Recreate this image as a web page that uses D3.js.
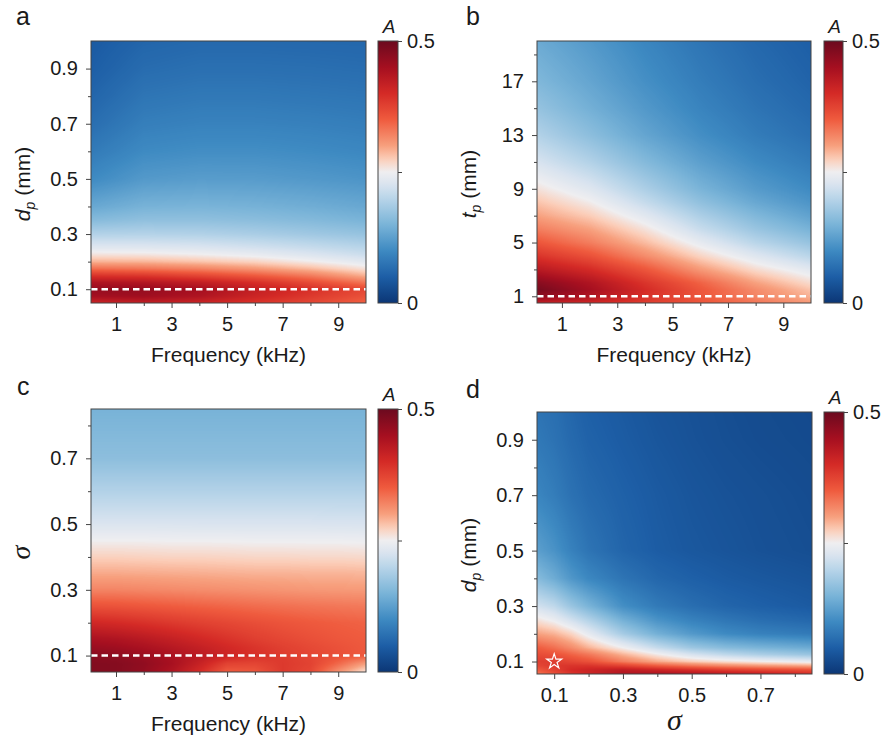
<!DOCTYPE html>
<html><head><meta charset="utf-8">
<script src="https://cdn.jsdelivr.net/npm/d3@7"></script>
<style>
body{margin:0;background:#fff}
svg text{font-family:"Liberation Sans",Arial,sans-serif;fill:#1a1a1a}
</style>
</head><body>
<svg id="chart" width="887" height="744"></svg>
<script>
// ---------------- DATA ----------------
// Panel a: A vs Frequency (kHz) and d_p (mm)
const freqA = [0.1, 2, 4, 6, 8, 10];
const dpA = [0.05, 0.075, 0.1, 0.125, 0.15, 0.175, 0.2, 0.225, 0.25, 0.3, 0.35, 0.4, 0.5, 0.6, 0.7, 0.8, 0.9, 1.0];
const valuesA = [
  [0.41, 0.42, 0.41, 0.39, 0.37, 0.345],
  [0.45, 0.455, 0.44, 0.41, 0.385, 0.36],
  [0.465, 0.465, 0.45, 0.42, 0.395, 0.37],
  [0.44, 0.435, 0.42, 0.395, 0.365, 0.33],
  [0.39, 0.385, 0.37, 0.35, 0.325, 0.29],
  [0.335, 0.33, 0.32, 0.305, 0.285, 0.26],
  [0.29, 0.288, 0.28, 0.27, 0.253, 0.235],
  [0.26, 0.258, 0.252, 0.243, 0.23, 0.215],
  [0.235, 0.234, 0.23, 0.222, 0.212, 0.2],
  [0.195, 0.196, 0.194, 0.188, 0.18, 0.172],
  [0.16, 0.168, 0.168, 0.164, 0.158, 0.15],
  [0.135, 0.148, 0.15, 0.147, 0.142, 0.135],
  [0.1, 0.118, 0.122, 0.121, 0.117, 0.112],
  [0.082, 0.1, 0.104, 0.104, 0.101, 0.097],
  [0.068, 0.087, 0.091, 0.091, 0.089, 0.086],
  [0.058, 0.076, 0.08, 0.08, 0.078, 0.076],
  [0.05, 0.066, 0.07, 0.07, 0.069, 0.067],
  [0.045, 0.058, 0.062, 0.062, 0.061, 0.06]
];

// Panel b: A vs Frequency (kHz) and t_p (mm)
const freqB = [0.1, 2, 4, 6, 8, 10];
const tpB = [0.5, 1, 1.5, 2, 3, 4, 5, 6, 7, 8, 9, 11, 13, 15, 17, 20];
const valuesB = [
  [0.42, 0.405, 0.38, 0.355, 0.33, 0.305],
  [0.47, 0.44, 0.395, 0.355, 0.32, 0.29],
  [0.49, 0.45, 0.4, 0.355, 0.315, 0.28],
  [0.475, 0.44, 0.39, 0.345, 0.3, 0.265],
  [0.43, 0.4, 0.355, 0.305, 0.265, 0.235],
  [0.39, 0.36, 0.315, 0.27, 0.232, 0.2],
  [0.355, 0.325, 0.285, 0.24, 0.2, 0.172],
  [0.325, 0.3, 0.26, 0.212, 0.175, 0.148],
  [0.3, 0.275, 0.235, 0.19, 0.155, 0.128],
  [0.28, 0.253, 0.21, 0.168, 0.135, 0.112],
  [0.26, 0.232, 0.19, 0.15, 0.12, 0.1],
  [0.225, 0.195, 0.158, 0.125, 0.1, 0.083],
  [0.195, 0.165, 0.132, 0.105, 0.084, 0.07],
  [0.172, 0.145, 0.117, 0.093, 0.075, 0.062],
  [0.155, 0.132, 0.106, 0.085, 0.068, 0.056],
  [0.138, 0.118, 0.095, 0.076, 0.061, 0.05]
];

// Panel c: A vs Frequency (kHz) and sigma
const freqC = [0.1, 1, 2, 3, 4, 5, 6, 7, 8, 9, 10];
const sigmaC = [0.05, 0.075, 0.1, 0.125, 0.15, 0.2, 0.25, 0.3, 0.35, 0.4, 0.45, 0.5, 0.6, 0.7, 0.85];
const valuesC = [
  [0.48, 0.478, 0.465, 0.44, 0.4, 0.35, 0.355, 0.385, 0.37, 0.31, 0.26],
  [0.48, 0.478, 0.468, 0.448, 0.415, 0.375, 0.372, 0.385, 0.375, 0.34, 0.3],
  [0.475, 0.47, 0.46, 0.445, 0.428, 0.41, 0.395, 0.383, 0.372, 0.362, 0.352],
  [0.46, 0.455, 0.445, 0.432, 0.418, 0.403, 0.39, 0.378, 0.368, 0.36, 0.352],
  [0.445, 0.44, 0.43, 0.418, 0.405, 0.392, 0.38, 0.37, 0.362, 0.355, 0.35],
  [0.405, 0.4, 0.393, 0.385, 0.377, 0.37, 0.363, 0.357, 0.352, 0.348, 0.345],
  [0.36, 0.358, 0.354, 0.35, 0.346, 0.342, 0.338, 0.335, 0.332, 0.33, 0.328],
  [0.32, 0.32, 0.318, 0.316, 0.314, 0.312, 0.31, 0.308, 0.306, 0.305, 0.304],
  [0.295, 0.295, 0.294, 0.293, 0.292, 0.291, 0.29, 0.29, 0.289, 0.289, 0.288],
  [0.272, 0.272, 0.271, 0.27, 0.27, 0.269, 0.268, 0.268, 0.267, 0.267, 0.266],
  [0.25, 0.25, 0.25, 0.249, 0.249, 0.249, 0.248, 0.248, 0.248, 0.248, 0.247],
  [0.228, 0.228, 0.228, 0.228, 0.227, 0.227, 0.227, 0.227, 0.227, 0.226, 0.226],
  [0.195, 0.195, 0.195, 0.195, 0.195, 0.195, 0.195, 0.195, 0.195, 0.195, 0.195],
  [0.165, 0.165, 0.165, 0.165, 0.165, 0.165, 0.165, 0.165, 0.165, 0.165, 0.165],
  [0.148, 0.148, 0.148, 0.148, 0.148, 0.148, 0.148, 0.148, 0.148, 0.148, 0.148]
];

// Panel d: A vs sigma and d_p (mm)
const sigmaD = [0.05, 0.1, 0.15, 0.2, 0.3, 0.4, 0.5, 0.6, 0.7, 0.85];
const dpD = [0.055, 0.07, 0.085, 0.1, 0.125, 0.15, 0.2, 0.25, 0.3, 0.4, 0.5, 0.7, 0.9, 1.0];
const valuesD = [
  [0.33, 0.36, 0.39, 0.41, 0.44, 0.445, 0.44, 0.43, 0.42, 0.4],
  [0.35, 0.375, 0.4, 0.41, 0.425, 0.41, 0.395, 0.38, 0.37, 0.36],
  [0.37, 0.385, 0.39, 0.39, 0.375, 0.35, 0.33, 0.315, 0.305, 0.295],
  [0.38, 0.38, 0.37, 0.36, 0.325, 0.295, 0.275, 0.262, 0.252, 0.24],
  [0.365, 0.36, 0.345, 0.33, 0.29, 0.255, 0.225, 0.205, 0.19, 0.175],
  [0.35, 0.335, 0.315, 0.29, 0.25, 0.21, 0.178, 0.16, 0.15, 0.138],
  [0.3, 0.29, 0.27, 0.24, 0.185, 0.145, 0.118, 0.1, 0.09, 0.082],
  [0.26, 0.245, 0.22, 0.195, 0.145, 0.11, 0.09, 0.077, 0.068, 0.06],
  [0.22, 0.205, 0.175, 0.15, 0.105, 0.082, 0.068, 0.058, 0.052, 0.045],
  [0.16, 0.14, 0.115, 0.097, 0.075, 0.06, 0.052, 0.046, 0.042, 0.037],
  [0.125, 0.11, 0.09, 0.075, 0.058, 0.048, 0.042, 0.038, 0.034, 0.03],
  [0.095, 0.085, 0.072, 0.063, 0.053, 0.045, 0.039, 0.035, 0.032, 0.028],
  [0.08, 0.073, 0.063, 0.055, 0.047, 0.04, 0.035, 0.031, 0.028, 0.025],
  [0.075, 0.07, 0.06, 0.052, 0.045, 0.038, 0.034, 0.03, 0.027, 0.024]
];

// Tick values
const freqTicks = [1, 3, 5, 7, 9];
const freqMinor = [2, 4, 6, 8];
const dpTicks = [0.1, 0.3, 0.5, 0.7, 0.9];
const dpMinor = [0.2, 0.4, 0.6, 0.8];
const tpTicks = [1, 5, 9, 13, 17];
const tpMinor = [3, 7, 11, 15, 19];
const sigmaTicksC = [0.1, 0.3, 0.5, 0.7];
const sigmaMinorC = [0.2, 0.4, 0.6, 0.8];
const sigmaTicksD = [0.1, 0.3, 0.5, 0.7];
const sigmaMinorD = [0.2, 0.4, 0.6, 0.8];
const cbarTicks = [0, 0.25, 0.5];
const cbarLabels = ["0", "", "0.5"];
const starPoint = [0.1, 0.1]; // (sigma, d_p) marked in panel d

// ---------------- COLORMAP ----------------
const cmapStops = [0, 0.05, 0.1, 0.15, 0.2, 0.225, 0.25, 0.275, 0.3, 0.35, 0.4, 0.45, 0.5];
const cmapColors = ["#0b3675", "#1d5ea6", "#3e8ac2", "#7ab4d8", "#b9d5e9", "#d8e3ef", "#efeef0",
                    "#fbcdb8", "#f7a07e", "#ef5b3e", "#d42a26", "#a50f20", "#6b0a1f"];
const cmap = d3.scaleLinear().domain(cmapStops).range(cmapColors).clamp(true);
const LUT = d3.range(501).map(i => d3.rgb(cmap(i / 1000)));

const svg = d3.select("#chart");
const defs = svg.append("defs");
const grad = defs.append("linearGradient").attr("id", "cbarGrad")
  .attr("x1", 0).attr("y1", 1).attr("x2", 0).attr("y2", 0);
d3.range(0, 51).forEach(i => {
  const v = i / 100;
  grad.append("stop").attr("offset", (v / 0.5 * 100) + "%").attr("stop-color", cmap(v));
});

function bilinear(xs, ys, vals, x, y) {
  const i = Math.max(0, Math.min(xs.length - 2, d3.bisectRight(xs, x) - 1));
  const j = Math.max(0, Math.min(ys.length - 2, d3.bisectRight(ys, y) - 1));
  const tx = Math.max(0, Math.min(1, (x - xs[i]) / (xs[i + 1] - xs[i])));
  const ty = Math.max(0, Math.min(1, (y - ys[j]) / (ys[j + 1] - ys[j])));
  const a = vals[j][i] * (1 - tx) + vals[j][i + 1] * tx;
  const b = vals[j + 1][i] * (1 - tx) + vals[j + 1][i + 1] * tx;
  return a * (1 - ty) + b * ty;
}

function panel(cfg) {
  const g = svg.append("g");
  const x = d3.scaleLinear().domain(cfg.xDomain).range([cfg.px0, cfg.px1]);
  const y = d3.scaleLinear().domain(cfg.yDomain).range([cfg.py1, cfg.py0]);
  const W = Math.round(cfg.px1 - cfg.px0), H = Math.round(cfg.py1 - cfg.py0);

  // heatmap image
  const canvas = document.createElement("canvas");
  canvas.width = W; canvas.height = H;
  const ctx = canvas.getContext("2d");
  const img = ctx.createImageData(W, H);
  for (let r = 0; r < H; r++) {
    const yv = y.invert(cfg.py0 + r + 0.5);
    for (let c = 0; c < W; c++) {
      const xv = x.invert(cfg.px0 + c + 0.5);
      const v = bilinear(cfg.xs, cfg.ys, cfg.vals, xv, yv);
      const col = LUT[Math.max(0, Math.min(500, Math.round(v * 1000)))];
      const k = (r * W + c) * 4;
      img.data[k] = col.r; img.data[k + 1] = col.g; img.data[k + 2] = col.b; img.data[k + 3] = 255;
    }
  }
  ctx.putImageData(img, 0, 0);
  g.append("image").attr("href", canvas.toDataURL())
    .attr("x", x(cfg.xDomain[0])).attr("y", y(cfg.yDomain[1]))
    .attr("width", W).attr("height", H).attr("preserveAspectRatio", "none");

  // dashed line
  if (cfg.dashed !== undefined) {
    g.append("line").attr("x1", x(cfg.xDomain[0])).attr("x2", x(cfg.xDomain[1]))
      .attr("y1", y(cfg.dashed)).attr("y2", y(cfg.dashed))
      .attr("stroke", "#fff").attr("stroke-width", 2.6).attr("stroke-dasharray", "6.5,4");
  }
  if (cfg.star) {
    g.append("path").attr("d", d3.symbol(d3.symbolStar, 70)())
      .attr("transform", `translate(${x(cfg.star[0])},${y(cfg.star[1])})`)
      .attr("fill", "none").attr("stroke", "#fff").attr("stroke-width", 1.2);
  }

  // frame
  g.append("rect").attr("x", cfg.px0).attr("y", cfg.py0).attr("width", W).attr("height", H)
    .attr("fill", "none").attr("stroke", "#444").attr("stroke-width", 1);

  // axes
  const styleAxis = sel => {
    sel.select(".domain").remove();
    sel.selectAll("line").attr("stroke", "#444");
    sel.selectAll("text").style("font-size", "20px").attr("fill", "#1a1a1a");
  };
  g.append("g").attr("transform", `translate(0,${cfg.py1})`)
    .call(d3.axisBottom(x).tickValues(cfg.xTicks).tickSize(5).tickPadding(9).tickFormat(cfg.xFmt))
    .call(styleAxis);
  g.append("g").attr("transform", `translate(0,${cfg.py1})`)
    .call(d3.axisBottom(x).tickValues(cfg.xMinor).tickSize(3).tickFormat(""))
    .call(styleAxis);
  g.append("g").attr("transform", `translate(${cfg.px0},0)`)
    .call(d3.axisLeft(y).tickValues(cfg.yTicks).tickSize(5).tickPadding(8).tickFormat(cfg.yFmt))
    .call(styleAxis);
  g.append("g").attr("transform", `translate(${cfg.px0},0)`)
    .call(d3.axisLeft(y).tickValues(cfg.yMinor).tickSize(3).tickFormat(""))
    .call(styleAxis);

  // colorbar
  const cb = d3.scaleLinear().domain([0, 0.5]).range([cfg.py1, cfg.py0]);
  g.append("rect").attr("x", cfg.cx0).attr("y", cfg.py0).attr("width", cfg.cx1 - cfg.cx0)
    .attr("height", H).attr("fill", "url(#cbarGrad)").attr("stroke", "#444").attr("stroke-width", 1);
  g.append("g").attr("transform", `translate(${cfg.cx1},0)`)
    .call(d3.axisRight(cb).tickValues(cbarTicks).tickSize(4).tickPadding(5)
      .tickFormat((d, i) => cbarLabels[i]))
    .call(styleAxis);
  g.append("text").attr("x", (cfg.cx0 + cfg.cx1) / 2 + 1).attr("y", cfg.py0 - 8)
    .attr("text-anchor", "middle").style("font-size", "19px").style("font-style", "italic").text("A");

  // panel label
  g.append("text").attr("x", cfg.lx).attr("y", cfg.ly).style("font-size", "25px").text(cfg.label);

  // x title
  const cxm = (cfg.px0 + cfg.px1) / 2;
  if (cfg.xTitle === "freq") {
    g.append("text").attr("x", cxm).attr("y", cfg.py1 + 59).attr("text-anchor", "middle")
      .style("font-size", "21px").text("Frequency (kHz)");
  } else {
    g.append("text").attr("x", cxm).attr("y", cfg.py1 + 56).attr("text-anchor", "middle")
      .style("font-family", "'Liberation Serif', 'DejaVu Serif', serif").style("font-style", "italic")
      .style("font-size", "30px").text("σ");
  }
  // y title
  const cym = (cfg.py0 + cfg.py1) / 2 + 12;
  const yt = g.append("text").attr("transform", `translate(${cfg.px0 - 61},${cym}) rotate(-90)`)
    .attr("text-anchor", "middle").style("font-size", "21px");
  if (cfg.yTitle === "sigma") {
    yt.style("font-family", "'Liberation Serif', 'DejaVu Serif', serif").style("font-style", "italic")
      .style("font-size", "28px").text("σ");
  } else {
    yt.append("tspan").style("font-style", "italic").text(cfg.yTitle);
    yt.append("tspan").style("font-style", "italic").style("font-size", "14px").attr("dy", 5).text("p");
    yt.append("tspan").attr("dy", -5).text(" (mm)");
  }
}

const f1 = d3.format(".1f");
const fi = d3.format("d");

panel({px0: 91, px1: 366, py0: 41, py1: 303, cx0: 378, cx1: 398,
  xDomain: [0.1, 10], yDomain: [0.05, 1.0], xs: freqA, ys: dpA, vals: valuesA,
  xTicks: freqTicks, xMinor: freqMinor, yTicks: dpTicks, yMinor: dpMinor, xFmt: fi, yFmt: f1,
  dashed: 0.1, label: "a", lx: 16, ly: 25, xTitle: "freq", yTitle: "d"});

panel({px0: 537, px1: 811, py0: 41, py1: 303, cx0: 824, cx1: 843,
  xDomain: [0.1, 10], yDomain: [0.5, 20], xs: freqB, ys: tpB, vals: valuesB,
  xTicks: freqTicks, xMinor: freqMinor, yTicks: tpTicks, yMinor: tpMinor, xFmt: fi, yFmt: fi,
  dashed: 1, label: "b", lx: 466, ly: 25, xTitle: "freq", yTitle: "t"});

panel({px0: 91, px1: 366, py0: 409, py1: 672, cx0: 378, cx1: 398,
  xDomain: [0.1, 10], yDomain: [0.05, 0.85], xs: freqC, ys: sigmaC, vals: valuesC,
  xTicks: freqTicks, xMinor: freqMinor, yTicks: sigmaTicksC, yMinor: sigmaMinorC, xFmt: fi, yFmt: f1,
  dashed: 0.1, label: "c", lx: 17, ly: 395, xTitle: "freq", yTitle: "sigma"});

panel({px0: 537, px1: 812, py0: 412, py1: 674, cx0: 824, cx1: 844,
  xDomain: [0.05, 0.85], yDomain: [0.055, 1.0], xs: sigmaD, ys: dpD, vals: valuesD,
  xTicks: sigmaTicksD, xMinor: sigmaMinorD, yTicks: dpTicks, yMinor: dpMinor, xFmt: f1, yFmt: f1,
  star: starPoint, label: "d", lx: 466, ly: 398, xTitle: "sigma", yTitle: "d"});
</script>
</body></html>
